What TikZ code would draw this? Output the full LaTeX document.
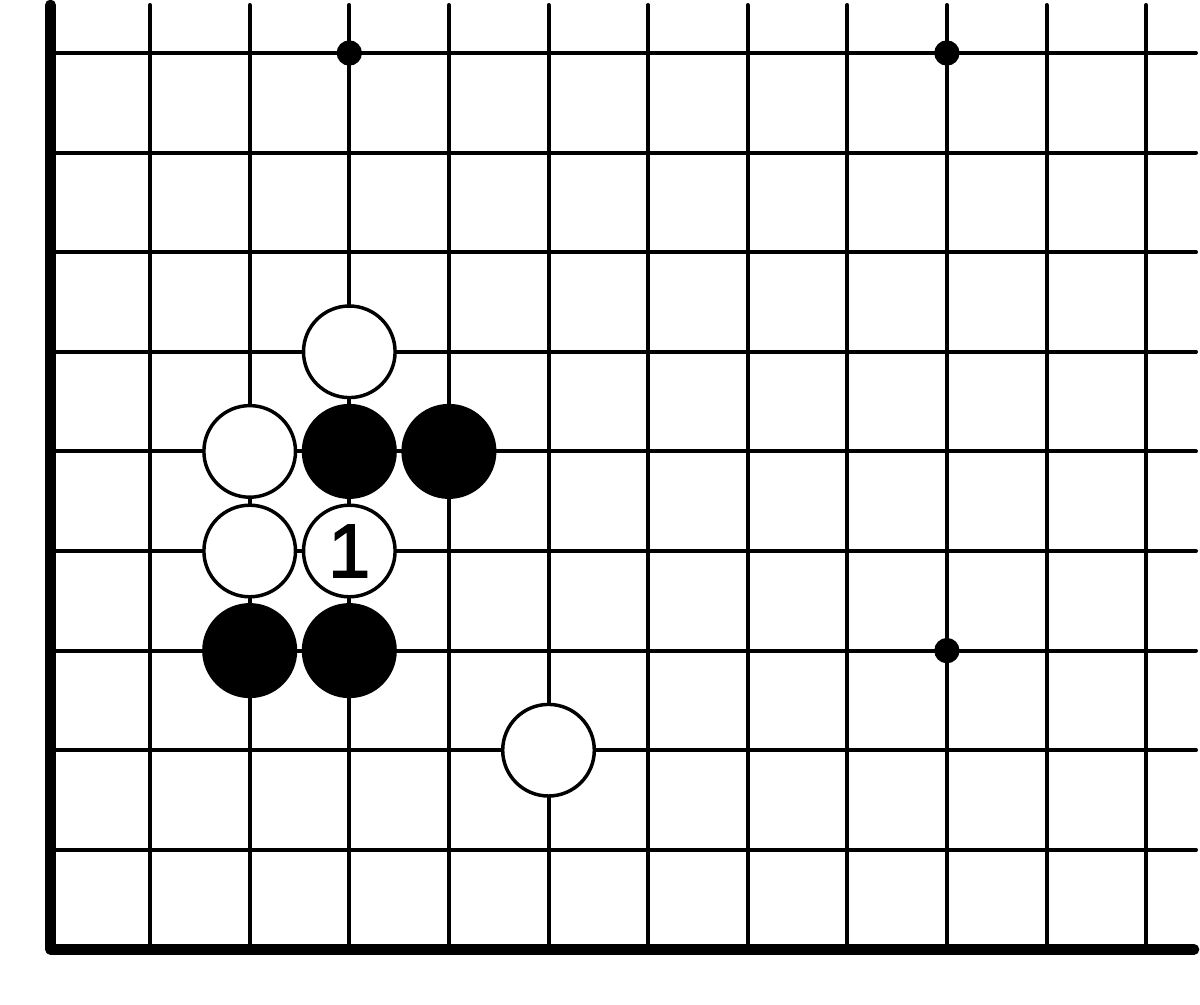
\documentclass[tikz,border=0pt]{standalone}
\usepackage{fontspec}
\setmainfont{Liberation Sans}
\newfontfamily\onefont[FakeBold=2]{Liberation Sans}
\begin{document}
\begin{tikzpicture}[x=0.75pt,y=-0.75pt,
  thinline/.style={line width=3pt,line cap=round},
  edgeline/.style={line width=8pt,line cap=round,line join=round},
  stone/.style={circle,draw=black,line width=2.6pt,minimum size=68.7pt,inner sep=0pt},
  wstone/.style={stone,fill=white},
  bstone/.style={stone,fill=black},
  hoshi/.style={circle,fill=black,minimum size=19pt,inner sep=0pt}]
\useasboundingbox (0,0) rectangle (1200,1004);
\fill[white] (0,0) rectangle (1200,1004);
% horizontal lines
\foreach \r in {0,...,8}
  \draw[thinline] (50.5,{53+99.6*\r}) -- (1196,{53+99.6*\r});
% vertical lines
\foreach \c in {1,...,11}
  \draw[thinline] ({50.5+99.6*\c},5) -- ({50.5+99.6*\c},949.4);
% edges
\draw[edgeline] (50.5,5) -- (50.5,949.4) -- (1194,949.4);
% star points
\node[hoshi] (h1) at ({50.5+99.6*3},53) {};
\node[hoshi] (h2) at ({50.5+99.6*9},53) {};
\node[hoshi] (h3) at ({50.5+99.6*9},{53+99.6*6}) {};
% stones
\node[wstone] (w1) at ({50.5+99.6*3},{53+99.6*3}) {};
\node[wstone] (w2) at ({50.5+99.6*2},{53+99.6*4}) {};
\node[wstone] (w3) at ({50.5+99.6*2},{53+99.6*5}) {};
\node[wstone,font=\onefont\fontsize{57}{60}\selectfont] (w4) at ({50.5+99.6*3},{53+99.6*5}) {1};
\node[wstone] (w5) at ({50.5+99.6*5},{53+99.6*7}) {};
\node[bstone] (b1) at ({50.5+99.6*3},{53+99.6*4}) {};
\node[bstone] (b2) at ({50.5+99.6*4},{53+99.6*4}) {};
\node[bstone] (b3) at ({50.5+99.6*2},{53+99.6*6}) {};
\node[bstone] (b4) at ({50.5+99.6*3},{53+99.6*6}) {};
\end{tikzpicture}
\end{document}
